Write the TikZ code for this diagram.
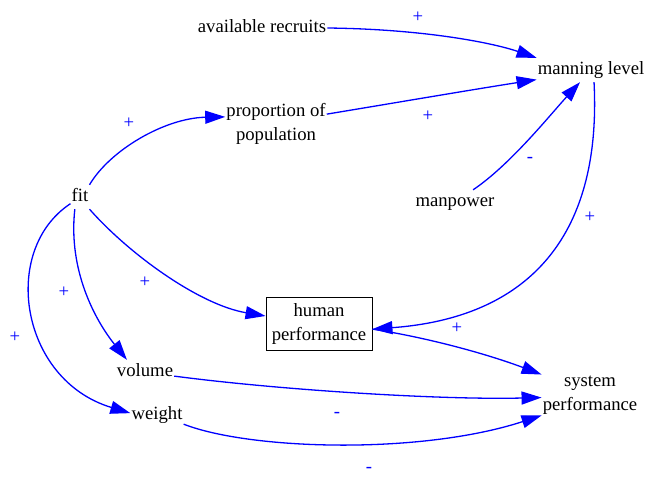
\documentclass[tikz,border=0pt]{standalone}
\usepackage{fontspec}
\setmainfont{Liberation Serif}
\usetikzlibrary{arrows.meta}
\tikzset{>={Triangle[length=20pt,width=13pt]}}

\begin{document}
\begin{tikzpicture}[x=1pt,y=-1pt,
  font=\fontsize{18.7}{24}\selectfont,
  var/.style={inner sep=1pt,minimum height=24pt,text height=13pt,text depth=4pt},
  var2/.style={inner sep=1pt,align=center},
  link/.style={->,blue,line width=1.3pt},
  sign/.style={blue,inner sep=0pt}]
  \useasboundingbox (0,0) rectangle (645,477);
  % 
  \node[var] (recruits) at (262,28) {available recruits};
  \node[var] (manning) at (591,70) {manning level};
  \node[var2] (proportion) at (276,124) {proportion of\\population};
  \node[var] (fit) at (80,197) {fit};
  \node[var] (manpower) at (455,202) {manpower};
  \node[var2,draw,line width=0.9pt,minimum width=106pt,minimum height=53pt,inner sep=2pt] (human) at (319,323.5) {human\\performance};
  \node[var] (volume) at (145,372) {volume};
  \node[var] (weight) at (157,415) {weight};
  \node[var2] (system) at (590,395) {system\\performance};
  % 
  \draw[link] (recruits.east) .. controls (420,29) and (490,42) .. (manning.north west);
  \draw[link] (proportion.11) .. controls (400,102) and (470,90) .. (manning.190);
  \draw[link] (manpower.34) .. controls (510,165) and (550,115) .. (manning.228);
  \draw[link] (manning.-76) .. controls (602,240) and (525,318) .. (human.-6);
  \draw[link] (human.-6) .. controls (430,338) and (490,355) .. (system.north west);
  \draw[link] (fit.north east) .. controls (110,150) and (165,118) .. (proportion.172);
  \draw[link] (fit.south east) .. controls (130,255) and (200,305) .. (human.172);
  \draw[link] (fit.247) .. controls (68,270) and (95,320) .. (volume.146);
  \draw[link] (fit.215) .. controls (0,250) and (20,380) .. (weight.176);
  \draw[link] (volume.-8) .. controls (280,390) and (440,400) .. (system.183);
  \draw[link] (weight.-19) .. controls (250,450) and (420,455) .. (system.south west);
  % 
  \node[sign] (s1) at (418,17) {+};
  \node[sign] (s2) at (428,116) {+};
  \node[sign] (s3) at (530,160) {-};
  \node[sign] (s4) at (590,217) {+};
  \node[sign] (s5) at (457,328) {+};
  \node[sign] (s6) at (129,123) {+};
  \node[sign] (s7) at (145,282) {+};
  \node[sign] (s8) at (64,292) {+};
  \node[sign] (s9) at (15,337) {+};
  \node[sign] (s10) at (337,415) {-};
  \node[sign] (s11) at (369,470) {-};
\end{tikzpicture}
\end{document}
